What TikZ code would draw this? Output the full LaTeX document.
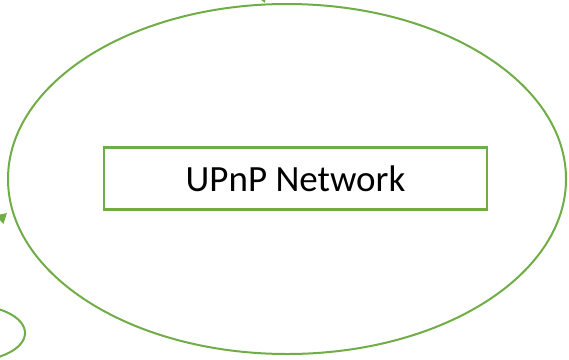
\documentclass[tikz,border=0pt]{standalone}
\usepackage{fontspec}
\setmainfont{Carlito}
\usetikzlibrary{shapes.geometric,arrows.meta}
\definecolor{netgreen}{RGB}{112,173,71}
\tikzset{
  greenline/.style={draw=netgreen, line width=2pt},
  netcloud/.style={greenline, ellipse, inner sep=0pt},
  netbox/.style={greenline, line width=2.4pt, rectangle, inner sep=0pt,
    font=\fontsize{37}{44}\selectfont},
  link/.style={netgreen, line width=2pt, -{Triangle[width=11pt,length=10pt]}}
}
\begin{document}
\begin{tikzpicture}[x=1pt,y=-1pt]
\useasboundingbox (0,0) rectangle (569,359);
\clip (0,0) rectangle (569,359);
% the network as a whole
\node[netcloud, minimum width=558pt, minimum height=350pt] (net) at (287,179) {};
% its caption box
\node[netbox, minimum width=383pt, minimum height=62pt] (caption) at (295.5,178.5) {UPnP Network};
% neighbouring pieces that reach in from outside the frame
\node[netcloud, minimum width=110pt, minimum height=56pt] (peer) at (-30,333) {};
\coordinate (inleft) at (-14,232);
\coordinate (tipleft) at (7,213);
\draw[link] (inleft) -- (tipleft);
\coordinate (intop) at (258,-14);
\coordinate (tiptop) at (265,3);
\draw[link] (intop) -- (tiptop);
\end{tikzpicture}
\end{document}
